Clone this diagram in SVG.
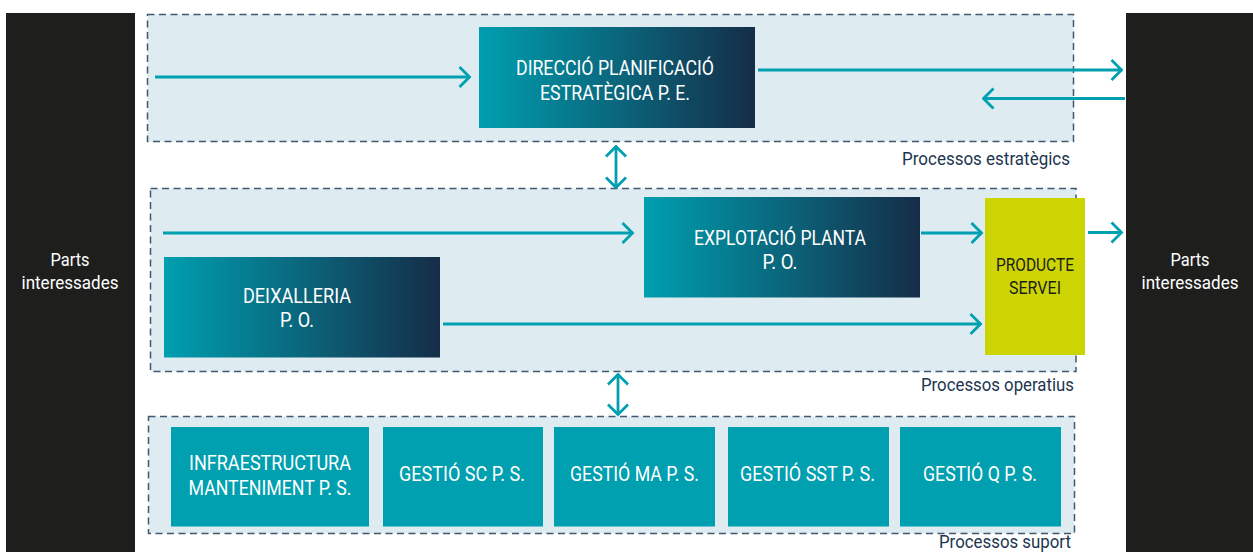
<svg xmlns="http://www.w3.org/2000/svg" width="1253" height="552" viewBox="0 0 1253 552">
<defs>
<linearGradient id="grad" x1="0" y1="0" x2="1" y2="0">
<stop offset="0" stop-color="#009fb0"/>
<stop offset="1" stop-color="#152d48"/>
</linearGradient>
<marker id="ah" viewBox="0 0 14 24" refX="12.5" refY="12" markerWidth="14" markerHeight="24" markerUnits="userSpaceOnUse" orient="auto-start-reverse">
<path d="M2,2 L12,12 L2,22" fill="none" stroke="#00a0b0" stroke-width="2.8"/>
</marker>
</defs>
<style>
.panel{fill:#1e1e1d}
.group{fill:#deebf0;stroke:#3f5a70;stroke-width:1.5;stroke-dasharray:7 4.5}
.grad{fill:url(#grad)}
.sup{fill:#00a0b0}
.prod{fill:#ccd503}
.t{font-family:Roboto,"Liberation Sans",sans-serif;font-size:21px;font-weight:400;fill:#ffffff;text-anchor:middle}
.tp{font-family:Roboto,"Liberation Sans",sans-serif;font-size:19px;font-weight:400;fill:#1e1e1d;text-anchor:middle}
.pi{font-family:Roboto,"Liberation Sans",sans-serif;font-size:17.5px;fill:#ffffff;text-anchor:middle}
.lab{font-family:Roboto,"Liberation Sans",sans-serif;font-size:18px;fill:#1c3550;text-anchor:end}
.c{fill:none;stroke:#00a0b0;stroke-width:2.8}
</style>

<g id="parts-left">
<rect class="panel" x="6" y="13" width="129" height="539"/>
<text class="pi" x="70" y="265.5" textLength="39" lengthAdjust="spacingAndGlyphs">Parts</text>
<text class="pi" x="70" y="289" textLength="97" lengthAdjust="spacingAndGlyphs">interessades</text>
</g>
<g id="parts-right">
<rect class="panel" x="1126" y="13" width="127" height="539"/>
<text class="pi" x="1190" y="265.5" textLength="39" lengthAdjust="spacingAndGlyphs">Parts</text>
<text class="pi" x="1190" y="289" textLength="97" lengthAdjust="spacingAndGlyphs">interessades</text>
</g>

<g id="processos-estrategics">
<rect class="group" x="147.5" y="14.5" width="926" height="127"/>
<text class="lab" x="1070" y="165" textLength="168" lengthAdjust="spacingAndGlyphs">Processos estratègics</text>
</g>
<g id="processos-operatius">
<rect class="group" x="150.5" y="188.5" width="925.5" height="183"/>
<text class="lab" x="1074" y="391" textLength="153" lengthAdjust="spacingAndGlyphs">Processos operatius</text>
</g>
<g id="processos-suport">
<rect class="group" x="148.5" y="416.5" width="926" height="117"/>
<text class="lab" x="1071" y="548" textLength="132" lengthAdjust="spacingAndGlyphs">Processos suport</text>
</g>

<g id="direccio">
<rect class="grad" x="479" y="27" width="276" height="101"/>
<text class="t" x="615" y="75" textLength="198" lengthAdjust="spacingAndGlyphs">DIRECCIÓ PLANIFICACIÓ</text>
<text class="t" x="615" y="99.5" textLength="150" lengthAdjust="spacingAndGlyphs">ESTRATÈGICA P. E.</text>
</g>
<g id="explotacio">
<rect class="grad" x="644" y="197" width="276" height="100.5"/>
<text class="t" x="780" y="244.5" textLength="172" lengthAdjust="spacingAndGlyphs">EXPLOTACIÓ PLANTA</text>
<text class="t" x="780" y="268.5" textLength="35" lengthAdjust="spacingAndGlyphs">P. O.</text>
</g>
<g id="deixalleria">
<rect class="grad" x="164" y="257" width="276" height="100.5"/>
<text class="t" x="297" y="303.3" textLength="108" lengthAdjust="spacingAndGlyphs">DEIXALLERIA</text>
<text class="t" x="297" y="327.3" textLength="34" lengthAdjust="spacingAndGlyphs">P. O.</text>
</g>
<g id="producte">
<rect class="prod" x="985" y="198" width="100" height="157"/>
<text class="tp" x="1035" y="270.7" textLength="78" lengthAdjust="spacingAndGlyphs">PRODUCTE</text>
<text class="tp" x="1035" y="294.3" textLength="52" lengthAdjust="spacingAndGlyphs">SERVEI</text>
</g>

<g id="infraestructura">
<rect class="sup" x="171" y="427" width="198" height="99.5"/>
<text class="t" x="270" y="470" textLength="162" lengthAdjust="spacingAndGlyphs">INFRAESTRUCTURA</text>
<text class="t" x="270" y="495" textLength="163" lengthAdjust="spacingAndGlyphs">MANTENIMENT P. S.</text>
</g>
<g id="gestio-sc">
<rect class="sup" x="383" y="427" width="160" height="99.5"/>
<text class="t" x="462" y="480.5" textLength="126" lengthAdjust="spacingAndGlyphs">GESTIÓ SC P. S.</text>
</g>
<g id="gestio-ma">
<rect class="sup" x="554" y="427" width="161" height="99.5"/>
<text class="t" x="634.5" y="480.5" textLength="129" lengthAdjust="spacingAndGlyphs">GESTIÓ MA P. S.</text>
</g>
<g id="gestio-sst">
<rect class="sup" x="728" y="427" width="161" height="99.5"/>
<text class="t" x="807.5" y="480.5" textLength="135" lengthAdjust="spacingAndGlyphs">GESTIÓ SST P. S.</text>
</g>
<g id="gestio-q">
<rect class="sup" x="900" y="427" width="161" height="99.5"/>
<text class="t" x="980" y="480.5" textLength="114" lengthAdjust="spacingAndGlyphs">GESTIÓ Q P. S.</text>
</g>

<g id="connectors">
<line class="c" x1="155" y1="77" x2="470" y2="77" marker-end="url(#ah)"/>
<line class="c" x1="758" y1="70" x2="1122" y2="70" marker-end="url(#ah)"/>
<line class="c" x1="1125" y1="98.5" x2="983" y2="98.5" marker-end="url(#ah)"/>
<line class="c" x1="616" y1="146" x2="616" y2="188" marker-start="url(#ah)" marker-end="url(#ah)"/>
<line class="c" x1="163" y1="233" x2="633" y2="233" marker-end="url(#ah)"/>
<line class="c" x1="921" y1="233" x2="982" y2="233" marker-end="url(#ah)"/>
<line class="c" x1="1088" y1="232.5" x2="1122" y2="232.5" marker-end="url(#ah)"/>
<line class="c" x1="443" y1="324" x2="981" y2="324" marker-end="url(#ah)"/>
<line class="c" x1="618" y1="374" x2="618" y2="415" marker-start="url(#ah)" marker-end="url(#ah)"/>
</g>
</svg>
